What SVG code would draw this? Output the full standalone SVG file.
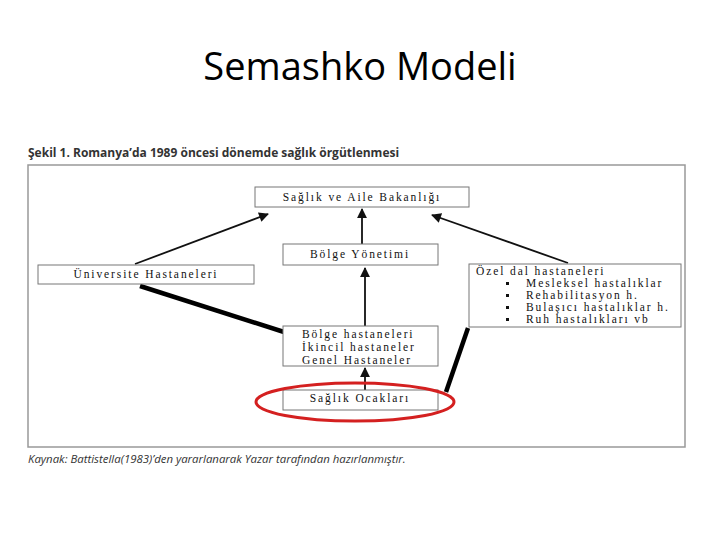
<svg xmlns="http://www.w3.org/2000/svg" width="720" height="540" viewBox="0 0 720 540">
<style>
.title{font-family:"Open Sans","Liberation Sans",sans-serif;font-size:38px;fill:#000}
.cap{font-family:"Open Sans","Liberation Sans",sans-serif;font-size:12px;font-weight:bold;fill:#333}
.src{font-family:"Open Sans","Liberation Sans",sans-serif;font-size:11.4px;font-style:italic;fill:#333}
.box{fill:#fff;stroke:#777;stroke-width:1}
.t{font-family:"Liberation Serif","Times New Roman",serif;font-size:11.5px;letter-spacing:1.9px;fill:#111}
.thin{stroke:#111;stroke-width:1.8;fill:none}
.thick{stroke:#000;stroke-width:4.5;fill:none}
</style>
<defs>
<marker id="ah" viewBox="0 0 10 10" refX="9" refY="5" markerWidth="6" markerHeight="5.5" orient="auto" markerUnits="strokeWidth">
<path d="M0,0 L10,5 L0,10 z" fill="#111"/>
</marker>
</defs>
<rect width="720" height="540" fill="#fff"/>
<text class="title" x="360" y="80" text-anchor="middle">Semashko Modeli</text>
<text class="cap" x="28" y="157">Şekil 1. Romanya’da 1989 öncesi dönemde sağlık örgütlenmesi</text>
<rect x="28" y="165" width="657" height="282" fill="none" stroke="#999" stroke-width="1.5"/>
<g id="connectors">
<line class="thin" x1="135" y1="264" x2="268" y2="214" marker-end="url(#ah)"/>
<line class="thin" x1="362" y1="245" x2="362" y2="209" marker-end="url(#ah)"/>
<line class="thin" x1="568" y1="263" x2="432" y2="215" marker-end="url(#ah)"/>
<line class="thin" x1="365" y1="326" x2="365" y2="268" marker-end="url(#ah)"/>
<line class="thin" x1="365" y1="406" x2="365" y2="368" marker-end="url(#ah)"/>
<line class="thick" x1="140" y1="286" x2="284" y2="332"/>
<line class="thick" x1="468" y1="328" x2="446" y2="392"/>
</g>
<g id="n-bakanlik">
<rect class="box" x="255" y="187" width="214" height="20"/>
<text class="t" x="362" y="201" text-anchor="middle">Sağlık ve Aile Bakanlığı</text>
</g>
<g id="n-yonetim">
<rect class="box" x="283" y="244" width="155" height="21"/>
<text class="t" x="360" y="258" text-anchor="middle">Bölge Yönetimi</text>
</g>
<g id="n-universite">
<rect class="box" x="38" y="265" width="216" height="19"/>
<text class="t" x="146" y="278" text-anchor="middle">Üniversite Hastaneleri</text>
</g>
<g id="n-ozel">
<rect class="box" x="469" y="264" width="212" height="63"/>
<text class="t" x="476" y="275">Özel dal hastaneleri</text>
<g fill="#111">
<rect x="506" y="282" width="3" height="3"/>
<rect x="506" y="294" width="3" height="3"/>
<rect x="506" y="306" width="3" height="3"/>
<rect x="506" y="318" width="3" height="3"/>
</g>
<text class="t" x="526" y="287">Mesleksel hastalıklar</text>
<text class="t" x="526" y="299">Rehabilitasyon h.</text>
<text class="t" x="526" y="311">Bulaşıcı hastalıklar h.</text>
<text class="t" x="526" y="323">Ruh hastalıkları vb</text>
</g>
<g id="n-bolge-hast">
<rect class="box" x="283" y="326" width="155" height="40"/>
<text class="t" x="302" y="338">Bölge hastaneleri</text>
<text class="t" x="302" y="351">İkincil hastaneler</text>
<text class="t" x="302" y="364">Genel Hastaneler</text>
</g>
<g id="n-ocak">
<rect class="box" x="283" y="390" width="155" height="20"/>
<text class="t" x="360" y="402" text-anchor="middle">Sağlık Ocakları</text>
</g>
<ellipse cx="355" cy="402" rx="99" ry="19" fill="none" stroke="#d42020" stroke-width="3"/>
<text class="src" x="28" y="463">Kaynak: Battistella(1983)’den yararlanarak Yazar tarafından hazırlanmıştır.</text>
</svg>
